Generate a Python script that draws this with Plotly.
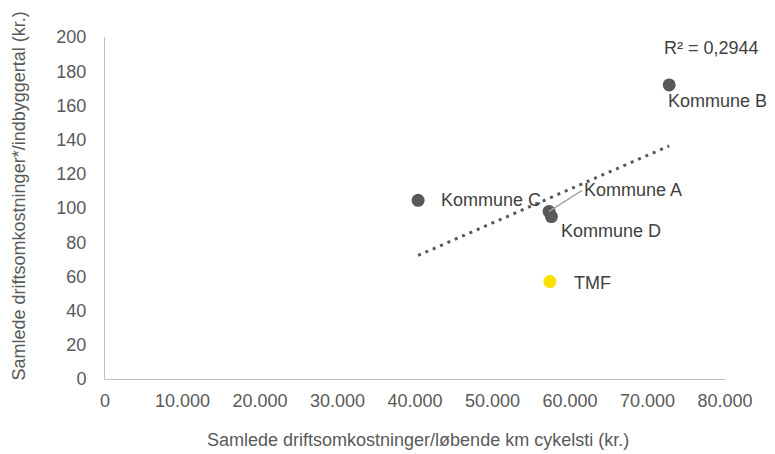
import numpy as np
import plotly.graph_objects as go

# data
kommuner = ["Kommune C", "Kommune A", "Kommune D", "Kommune B", "TMF"]
km_cost = [40400, 57300, 57600, 72800, 57400]       # kr. per km cykelsti
per_capita = [104.5, 98.0, 95.0, 172.0, 57.0]       # kr. per indbygger
r2_label = "R² = 0,2944"
x_title = "Samlede driftsomkostninger/løbende km cykelsti (kr.)"
y_title = "Samlede driftsomkostninger*/indbyggertal (kr.)"

dark = "#595959"
yellow = "#FFE100"
text_col = "#404040"
fs = 18

fig = go.Figure()

# linear trendline over all points
slope, icpt = np.polyfit(km_cost, per_capita, 1)
tx = [min(km_cost), max(km_cost)]
ty = [slope * v + icpt for v in tx]
fig.add_trace(go.Scatter(
    x=tx, y=ty, mode="lines",
    line=dict(color=dark, width=3, dash="3px,5px"),
    hoverinfo="skip", showlegend=False,
))

colors = [yellow if k == "TMF" else dark for k in kommuner]
fig.add_trace(go.Scatter(
    x=km_cost, y=per_capita, mode="markers",
    marker=dict(size=13, color=colors, line=dict(width=0)),
    text=kommuner, hovertemplate="%{text}<br>%{x}<br>%{y}<extra></extra>",
    showlegend=False,
))

# label offsets (pixels) per point
offsets = {
    "Kommune C": (21, 0),
    "Kommune D": (8, -14),
    "Kommune B": (-3, -16),
    "TMF": (22, -1),
}
for name, xv, yv in zip(kommuner, km_cost, per_capita):
    if name == "Kommune A":
        fig.add_annotation(
            x=xv, y=yv, text=name, showarrow=True, arrowhead=0,
            arrowwidth=1.5, arrowcolor="#A6A6A6", ax=33, ay=-21,
            standoff=0, xanchor="left", font=dict(size=fs, color=text_col),
        )
    else:
        dx, dy = offsets[name]
        fig.add_annotation(
            x=xv, y=yv, text=name, showarrow=False, xanchor="left",
            xshift=dx, yshift=dy, font=dict(size=fs, color=text_col),
        )

fig.add_annotation(
    x=0.898, y=0.968, xref="paper", yref="paper", text=r2_label,
    showarrow=False, xanchor="left", yanchor="middle",
    font=dict(size=fs, color=text_col),
)

# axis titles as annotations for exact placement
fig.add_annotation(
    x=0.505, y=-0.178, xref="paper", yref="paper", text=x_title,
    showarrow=False, xanchor="center", yanchor="middle",
    font=dict(size=fs, color=dark),
)
fig.add_annotation(
    x=-0.138, y=0.535, xref="paper", yref="paper", text=y_title,
    textangle=-90, showarrow=False, xanchor="center", yanchor="middle",
    font=dict(size=fs, color=dark),
)

axis_common = dict(
    showgrid=False, zeroline=False, showline=True, linecolor="#BFBFBF",
    linewidth=1, ticks="", tickfont=dict(size=fs, color=dark),
    automargin=False,
)
fig.update_xaxes(range=[0, 80000], dtick=10000, tickformat=",d",
                 ticklabelstandoff=5, **axis_common)
fig.update_yaxes(range=[0, 200], dtick=20, ticklabelstandoff=14, **axis_common)

# page has an 8px body margin, so the figure is a bit smaller than the window
fig.update_layout(
    width=767, height=446,
    margin=dict(l=97, r=50, t=29, b=75),
    plot_bgcolor="white", paper_bgcolor="white",
    separators=",.",
    font=dict(family="Liberation Sans, Arial, sans-serif", color=dark),
)

fig.write_html("out.html")
